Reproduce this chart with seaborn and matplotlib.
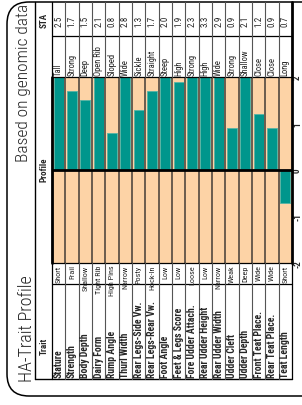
import matplotlib
matplotlib.use("Agg")
import matplotlib.pyplot as plt
import matplotlib.transforms as mtrans
from matplotlib import font_manager as fm
from matplotlib.patches import FancyBboxPatch
import seaborn as sns

# trait table (top row first)
traits = ["Stature", "Strength", "Body Depth", "Dairy Form", "Rump Angle", "Thurl Width",
          "Rear Legs-Side Vw.", "Rear Legs-Rear Vw.", "Foot Angle", "Feet & Legs Score",
          "Fore Udder Attach.", "Rear Udder Height", "Rear Udder Width", "Udder Cleft",
          "Udder Depth", "Front Teat Place.", "Rear Teat Place.", "Teat Length"]
low_labels = ["Short", "Frail", "Shallow", "Tight Rib", "High Pins", "Narrow", "Posty",
              "Hock-In", "Low", "Low", "Loose", "Low", "Narrow", "Weak", "Deep", "Wide",
              "Wide", "Short"]
high_labels = ["Tall", "Strong", "Deep", "Open Rib", "Sloped", "Wide", "Sickle", "Straight",
               "Steep", "High", "Strong", "High", "Wide", "Strong", "Shallow", "Close",
               "Close", "Long"]
sta = [2.5, 1.7, 1.5, 2.1, 0.8, 2.8, 1.3, 1.7, 2.0, 1.9, 2.3, 3.3, 2.9, 0.9, 2.1, 1.2, 0.9, -0.7]
sta_text = ["2.5", "1.7", "1.5", "2.1", "0.8", "2.8", "1.3", "1.7", "2.0", "1.9", "2.3", "3.3",
            "2.9", "0.9", "2.1", "1.2", "0.9", "0.7"]
ticks = [-2, -1, 0, 1, 2]

teal = "#00968c"
peach = "#fdd3a6"
W, H = 302, 406

sns.set_theme(style="white")

# look for a narrow face, the table uses a condensed type
faces = fm.fontManager.ttflist
names = {f.name for f in faces}
narrow = None
for n in ["Liberation Sans Narrow", "Roboto Condensed", "Open Sans Condensed", "Noto Sans Condensed"]:
    if n in names:
        narrow = n
        break
stretch = "normal"
if narrow is None:
    if any(f.name == "DejaVu Sans" and f.stretch == "condensed" for f in faces):
        narrow, stretch = "DejaVu Sans", "condensed"
    elif any(f.name == "Noto Sans" and f.stretch == "condensed" for f in faces):
        narrow, stretch = "Noto Sans", "condensed"
    else:
        narrow = "Roboto"
shrink = 1.0 if stretch == "condensed" or narrow != "Roboto" else 0.88
plt.rcParams["font.family"] = [narrow, "DejaVu Sans"]
plt.rcParams["font.stretch"] = stretch

fig = plt.figure(figsize=(W / 100, H / 100), dpi=100)

# bar area (chart is turned a quarter turn: rows run left to right)
x0, x1, y0, y1 = 52, 292, 78, 264
ax = fig.add_axes([x0 / W, 1 - y1 / H, (x1 - x0) / W, (y1 - y0) / H])
ax.set_facecolor(peach)
sns.barplot(x=traits, y=sta, color=teal, width=0.76, saturation=1,
            edgecolor="#55b3a6", linewidth=0.6, ax=ax, zorder=2)
ax.set_ylim(-2, 2)
ax.set_xlim(-0.5, len(traits) - 0.5)
for k in range(1, len(traits)):
    ax.axvline(k - 0.5, color="#6b5c4e", lw=1.4, zorder=3)
ax.axhline(0, color="black", lw=2, zorder=4)
for s in ax.spines.values():
    s.set_visible(False)
ax.set_xticks([])
ax.set_xlabel("")
ax.yaxis.tick_right()
ax.set_yticks(ticks)
ax.set_yticklabels([str(t) for t in ticks], rotation=90, va="center",
                   fontsize=6.5 * shrink, fontweight="bold")
ax.tick_params(axis="y", length=0, pad=0.8)

# table lines and texts, in pixel units
ov = fig.add_axes([0, 0, 1, 1], zorder=5)
ov.set_xlim(0, W)
ov.set_ylim(H, 0)
ov.axis("off")
ov.patch.set_alpha(0)

ov.add_patch(FancyBboxPatch((7, 3), 330, 394, boxstyle="round,pad=0,rounding_size=22",
                            fill=False, ec="black", lw=1.1))
ov.plot([35, 35], [3, 380], color="black", lw=1)
ov.plot([35, x1], [380, 380], color="black", lw=1)
for yy in [37, y0, y1, 285]:
    ov.plot([x0, x1], [yy, yy], color="black", lw=0.9)
ov.plot([x0, x0], [3, 380], color="black", lw=0.9)
ov.plot([x0, x0], [y0, y1], color="black", lw=2)
ov.plot([x1, x1], [3, y1], color="black", lw=2)
ov.plot([x1, x1], [y1, 380], color="black", lw=0.9)

tr = mtrans.blended_transform_factory(ax.transData, ov.transData)
for k in range(1, len(traits)):
    for ya, yb in [(3, 37), (37, y0), (y1, 285), (285, 380)]:
        ov.plot([k - 0.5, k - 0.5], [ya, yb], color="#555555", lw=0.8, transform=tr)

for i, name in enumerate(traits):
    ov.text(i, 378, name, rotation=90, ha="center", va="bottom", fontsize=7 * shrink,
            fontweight="bold", transform=tr)
    ov.text(i, 265.5, low_labels[i], rotation=90, ha="center", va="top",
            fontsize=5.9 * shrink, transform=tr)
    ov.text(i, 76.5, high_labels[i], rotation=90, ha="center", va="bottom",
            fontsize=6.2 * shrink, transform=tr)
    ov.text(i, 21, sta_text[i], rotation=90, ha="center", va="center",
            fontsize=6.5 * shrink, transform=tr)

ov.text(44, 20, "STA", rotation=90, ha="center", va="center", fontsize=6.5 * shrink,
        fontweight="bold")
ov.text(44, 170, "Profile", rotation=90, ha="center", va="center", fontsize=6.5 * shrink,
        fontweight="bold")
ov.text(44, 346, "Trait", rotation=90, ha="center", va="center", fontsize=6.5 * shrink,
        fontweight="bold")

ov.text(27, 382, "HA-Trait Profile", rotation=90, ha="center", va="bottom",
        fontsize=13 * shrink, fontweight="light")
ov.text(24, 4, "Based on genomic data", rotation=90, ha="center", va="top",
        fontsize=12.5 * shrink, fontweight="light")

fig.savefig("out.png", dpi=100)
